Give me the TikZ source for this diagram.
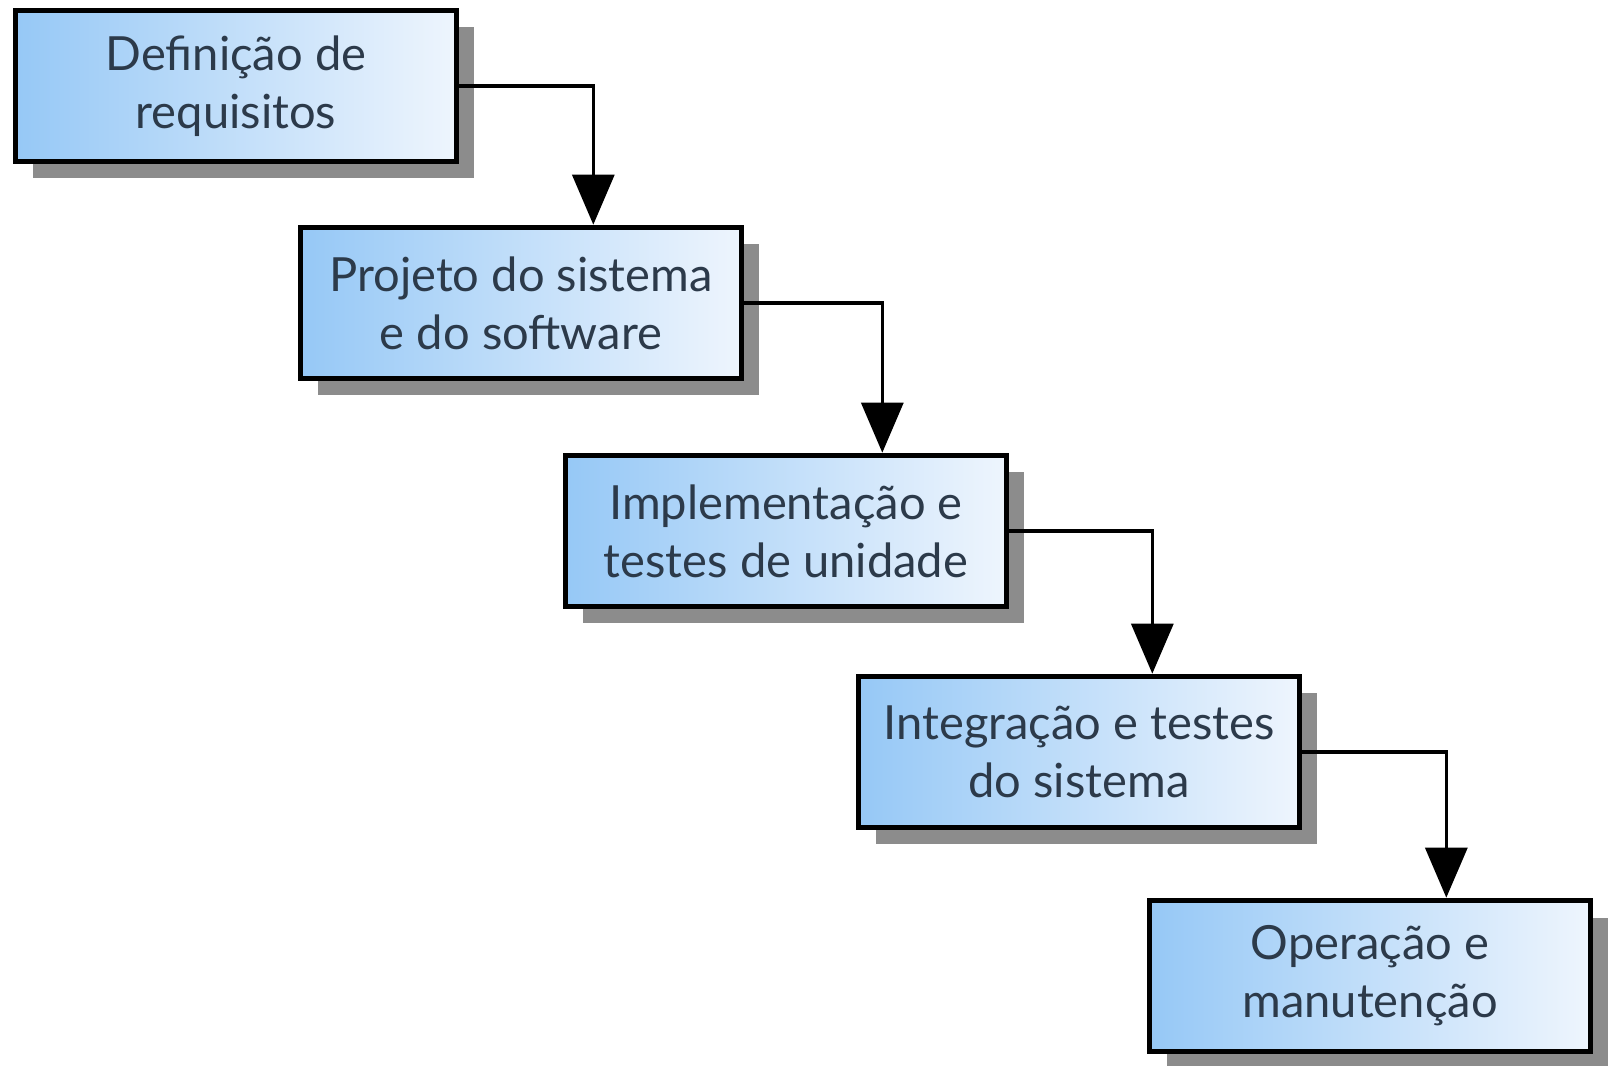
\documentclass[tikz,border=0pt]{standalone}
\usepackage{fontspec}
\setsansfont{Lato}
\usetikzlibrary{arrows.meta,positioning,calc,shadows}

\begin{document}
\begin{tikzpicture}[
    >={Triangle[length=5mm,width=4.2mm]}, font=\sffamily\fontsize{13.4}{16.5}\selectfont,
    phase/.style={draw=black,line width=1.6pt,shading=axis,left color=phaseleft,right color=phaseright,
      minimum width=4.41cm,minimum height=1.51cm,align=center,text=phasetext,
      drop shadow={shadow xshift=0.17cm,shadow yshift=-0.17cm,fill=black!45,opacity=1}},
    flow/.style={->,draw=black,line width=0.9pt},
]
\definecolor{phaseleft}{RGB}{150,200,246}  \definecolor{phaseright}{RGB}{238,245,253}
\definecolor{phasetext}{RGB}{44,58,74}

\useasboundingbox (0,0) rectangle (16.08,10.65);

% ================= the five phases, one step down and right each =================
\node[phase] (req)  at (2.36,9.79) {Definição de\\requisitos};
\node[phase] (proj) at (5.21,7.62) {Projeto do sistema\\e do software};
\node[phase] (impl) at (7.86,5.34) {Implementação e\\testes de unidade};
\node[phase] (integ) at (10.79,3.13) {Integração e testes\\do sistema};
\node[phase] (oper) at (13.70,0.89) {Operação e\\manutenção};

% ================= connectors: right side of a phase down to the next one =================
\coordinate (k1) at ($(req.east)+(1.34,0)$);
\coordinate (k2) at ($(proj.east)+(1.38,0)$);
\coordinate (k3) at ($(impl.east)+(1.43,0)$);
\coordinate (k4) at ($(integ.east)+(1.44,0)$);
\draw[flow] (req.east) -| (k1 |- proj.north);
\draw[flow] (proj.east) -| (k2 |- impl.north);
\draw[flow] (impl.east) -| (k3 |- integ.north);
\draw[flow] (integ.east) -| (k4 |- oper.north);

\end{tikzpicture}
\end{document}
